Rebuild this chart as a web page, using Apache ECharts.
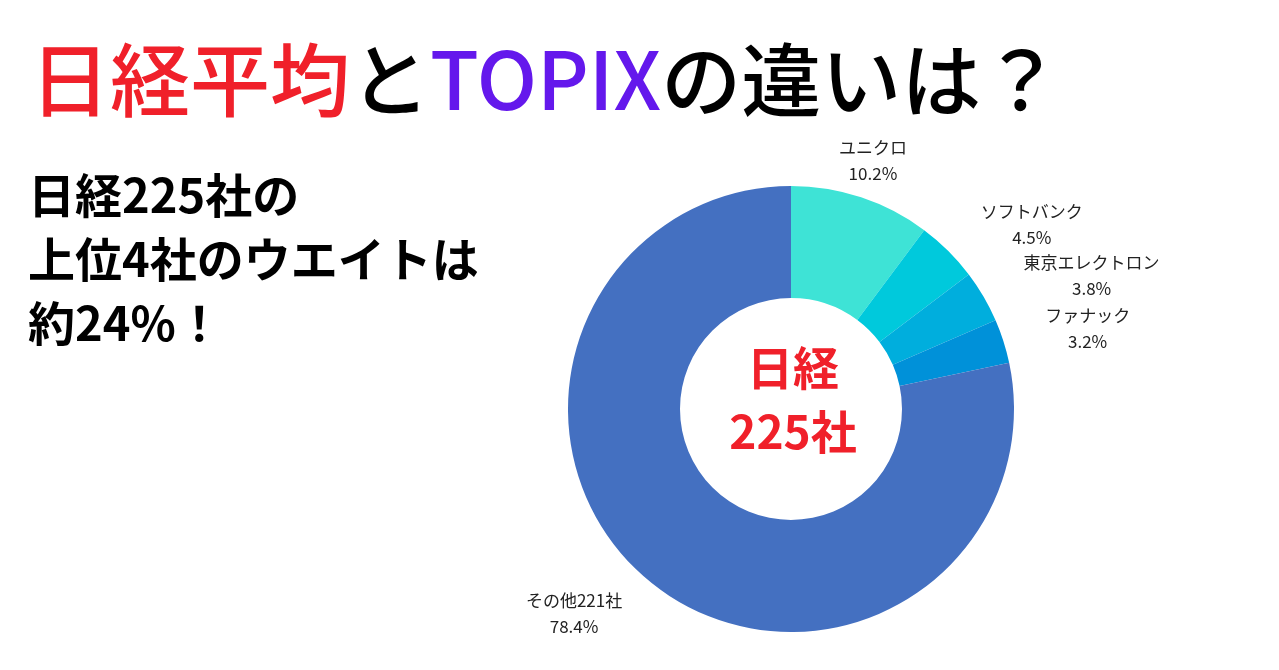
<!DOCTYPE html>
<html><head><meta charset="utf-8">
<script src="https://cdn.jsdelivr.net/npm/echarts@6/dist/echarts.min.js"></script>
<style>body{margin:0;background:#fff}#c{width:1279px;height:670px}</style>
</head><body><div id="c"></div>
<script>
var names=['ユニクロ','ソフトバンク','東京エレクトロン','ファナック','その他221社'];
var values=[10.2,4.5,3.8,3.2,78.4];
var colors=['#3ee3d6','#00c9dc','#00aedd','#0091d9','#4470c1'];
var font='"Noto Sans CJK JP", sans-serif';
var labelShift=[[3,-25],[74,-18],[94,-21],[69,-22],[-64,22]];
var myChart=echarts.init(document.getElementById('c'));
var data=[];
for(var i=0;i<names.length;i++){
    data.push({name:names[i],value:values[i],itemStyle:{color:colors[i]}});
}
var option={
    graphic:[
        {type:'text',x:30,y:80,style:{
            text:'{r|日経平均}{k|と}{p|TOPIX}{k|の違いは？}',
            verticalAlign:'middle',
            rich:{
                r:{fill:'#f0202a',font:'500 80px '+font},
                k:{fill:'#000',font:'500 80px '+font},
                p:{fill:'#6418ec',font:'500 80px '+font}
            }}},
        {type:'text',x:28,y:163,style:{text:'日経225社の\n上位4社のウエイトは\n約24%！',fill:'#000',font:'bold 47px '+font,lineHeight:64,verticalAlign:'top'}},
        {type:'text',x:793,y:400,style:{text:'日経\n225社',fill:'#f0202a',font:'bold 46px '+font,lineHeight:64,align:'center',verticalAlign:'middle'}}
    ],
    series:[{
        type:'pie',
        center:[791,409],
        radius:[111,223],
        startAngle:90,
        clockwise:true,
        silent:true,
        data:data,
        label:{
            position:'outside',
            formatter:'{b}\n{c}%',
            color:'#222',
            fontSize:17,
            lineHeight:26,
            fontFamily:font
        },
        labelLine:{show:false,length:12,length2:0},
        labelLayout:function(p){
            var s=labelShift[p.dataIndex];
            return {align:'center',dx:s[0],dy:s[1]};
        }
    }]
};
myChart.setOption(option);
</script></body></html>
